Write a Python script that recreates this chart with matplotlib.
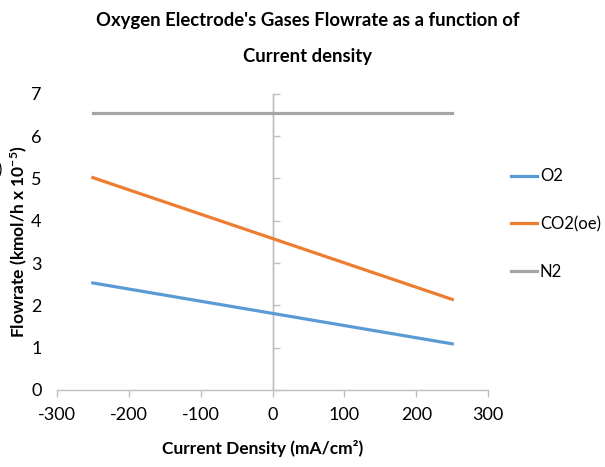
import matplotlib
matplotlib.use('Agg')
import matplotlib.pyplot as plt

# data
current_density = [-250, 0, 250]
o2 = [2.53, 1.81, 1.09]
co2_oe = [5.02, 3.58, 2.14]
n2 = [6.55, 6.55, 6.55]

x_ticks = [-300, -200, -100, 0, 100, 200, 300]
y_ticks = [0, 1, 2, 3, 4, 5, 6, 7]

plt.rcParams['font.family'] = ['Lato', 'DejaVu Sans']
plt.rcParams['axes.unicode_minus'] = False
plt.rcParams['mathtext.fontset'] = 'custom'
plt.rcParams['mathtext.rm'] = 'Lato:bold'
plt.rcParams['mathtext.default'] = 'regular'

axis_grey = '#bfbfbf'

fig = plt.figure(figsize=(6.05, 4.67), dpi=100)
ax = fig.add_axes([0.094, 0.165, 0.713, 0.634])

ax.plot(current_density, o2, color='#5B9BD5', lw=2.3, label='O2')
ax.plot(current_density, co2_oe, color='#ED7D31', lw=2.3, label='CO2(oe)')
ax.plot(current_density, n2, color='#A5A5A5', lw=2.3, label='N2')

ax.set_xlim(-300, 300)
ax.set_ylim(0, 7)
ax.set_xticks(x_ticks)
ax.set_yticks(y_ticks)

for side in ['top', 'right', 'left']:
    ax.spines[side].set_visible(False)
ax.spines['bottom'].set_color(axis_grey)
ax.spines['bottom'].set_linewidth(1.0)

ax.tick_params(axis='x', colors=axis_grey, length=5, width=1.0, labelsize=13,
               labelcolor='black', pad=7)
ax.tick_params(axis='y', length=0, labelsize=13, labelcolor='black', pad=11)

# vertical axis crosses at x = 0
ax.axvline(0, color=axis_grey, lw=1.0, zorder=1)
sec = ax.secondary_yaxis(0.5)
sec.set_yticks(y_ticks)
sec.set_yticklabels([])
sec.spines['left'].set_visible(False)
sec.tick_params(axis='y', colors=axis_grey, length=5, width=1.0)

ax.set_xlabel('Current Density (mA/cm²)', fontsize=12.5, fontweight='bold')
ax.set_ylabel(r'Flowrate (kmol/h x 10$^{-5}$)', fontsize=12.5, fontweight='bold')
ax.yaxis.set_label_coords(-0.062, 0.5)
ax.xaxis.set_label_coords(0.476, -0.17)

fig.suptitle("Oxygen Electrode's Gases Flowrate as a function of\nCurrent density",
             x=0.509, y=0.975, fontsize=13.3, fontweight='bold', linespacing=2.4)

ax.legend(loc='center left', bbox_to_anchor=(1.052, 0.56), frameon=False,
          borderaxespad=0, borderpad=0, fontsize=12, labelspacing=1.9,
          handlelength=1.6, handletextpad=0.15)

# clipped fragment at the left edge
fig.text(-0.004, 0.635, ')', fontsize=12, ha='left', va='center')

fig.savefig('out.png', dpi=100)
plt.close(fig)
